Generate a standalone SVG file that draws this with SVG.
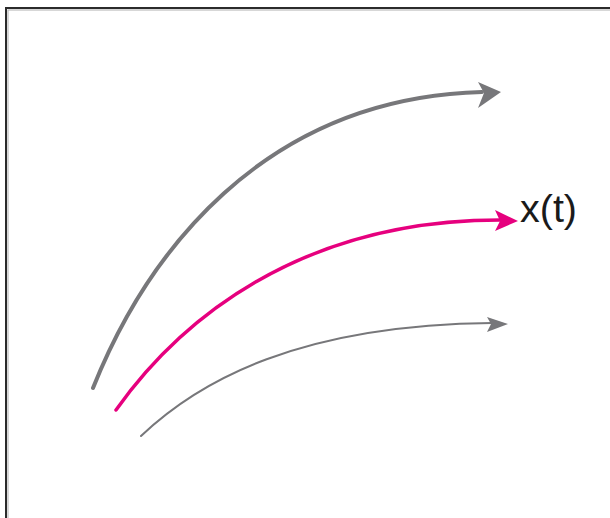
<svg xmlns="http://www.w3.org/2000/svg" width="610" height="518" viewBox="0 0 610 518">
  <style>
    .frame-outer { fill: none; stroke: #2b2b2b; stroke-width: 2; }
    .frame-inner { fill: none; stroke: #b0b0b0; stroke-width: 1; }
    .curve { fill: none; stroke-linecap: round; }
    .gray { stroke: #77777a; }
    .pink { stroke: #e6007e; }
    .head-gray { fill: #77777a; }
    .head-pink { fill: #e6007e; }
    .label { font-family: "Liberation Sans", Arial, sans-serif; font-size: 38px; fill: #1a1a1a; }
  </style>
  <rect width="610" height="518" fill="#ffffff"/>
  <g id="frame">
    <rect class="frame-outer" x="6" y="8" width="620" height="530"/>
    <rect class="frame-inner" x="8" y="10" width="620" height="530"/>
  </g>
  <g id="connectors">
    <g id="upper-trajectory">
      <path class="curve gray" stroke-width="4" d="M93,388 C145,258 260,98 482,92"/>
      <path class="head-gray" d="M501,92 L478,82 L484,93 L478,108 Z"/>
    </g>
    <g id="x-t-trajectory">
      <path class="curve pink" stroke-width="3.5" d="M116,410 C180,320 300,220 500,220"/>
      <path class="head-pink" d="M518,221 L495,210 L500,221 L495,231 Z"/>
    </g>
    <g id="lower-trajectory">
      <path class="curve gray" stroke-width="2" d="M141,436 C200,380 300,325 492,323"/>
      <path class="head-gray" d="M508,324 L487,317 L491,324 L487,332 Z"/>
    </g>
  </g>
  <g id="label-xt">
    <text class="label" x="520" y="222" textLength="57" lengthAdjust="spacingAndGlyphs">x(t)</text>
  </g>
</svg>
